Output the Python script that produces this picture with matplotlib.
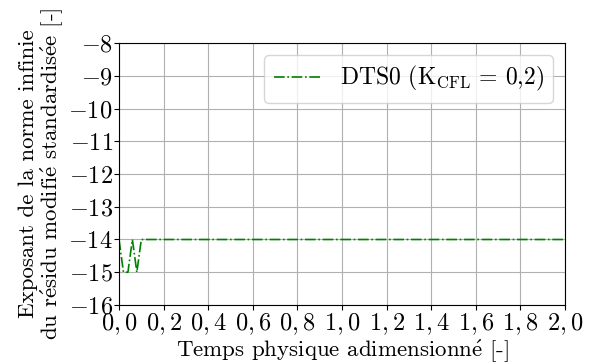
import matplotlib
matplotlib.use("Agg")
import matplotlib.pyplot as plt
from matplotlib.ticker import FuncFormatter, MultipleLocator

plt.rcParams['font.family'] = ['cmr10', 'DejaVu Serif']
plt.rcParams['mathtext.fontset'] = 'cm'
plt.rcParams['axes.formatter.use_mathtext'] = True
plt.rcParams['axes.unicode_minus'] = True

# residual exponent vs physical time
temps = [0.0, 0.02, 0.04, 0.06, 0.08, 0.10, 0.12, 0.5, 1.0, 1.5, 2.0]
exposant = [-14, -15, -15, -14, -15, -14, -14, -14, -14, -14, -14]

fig = plt.figure(figsize=(5.9, 3.63), dpi=100)
ax = fig.add_axes([0.2017, 0.1598, 0.7559, 0.7217])

ax.plot(temps, exposant, '-.', color='green', linewidth=1.2,
        label=r'DTS0 (K$_\mathrm{CFL}$ = 0,2)')

ax.set_xlim(0, 2)
ax.set_ylim(-16, -8)
ax.xaxis.set_major_locator(MultipleLocator(0.2))
ax.yaxis.set_major_locator(MultipleLocator(1))
ax.xaxis.set_major_formatter(FuncFormatter(lambda v, p: '$%s$' % ('%.1f' % v).replace('.', ',')))
ax.yaxis.set_major_formatter(FuncFormatter(lambda v, p: '$%d$' % round(v)))
ax.tick_params(labelsize=17.5, pad=1)
ax.grid(True, color='#b0b0b0', linewidth=0.8)

ax.set_xlabel(r'Temps physique $\mathrm{adimensionn\acute{e}}$ [-]', fontsize=16.5, labelpad=0)
ax.set_ylabel('Exposant de la norme infinie\n'
              r'du $\mathrm{r\acute{e}sidu}$ $\mathrm{modifi\acute{e}}$ $\mathrm{standardis\acute{e}e}$ [-]',
              fontsize=16.5, linespacing=1.05)
ax.yaxis.set_label_coords(-0.12, 0.5)

ax.legend(loc='upper right', fontsize=17)

fig.savefig('out.png', dpi=100)
